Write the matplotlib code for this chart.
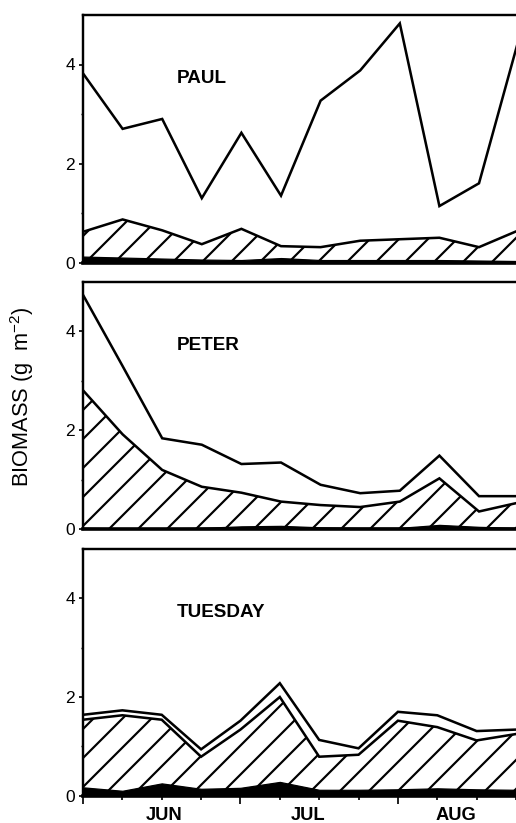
import matplotlib
matplotlib.use("Agg")
import matplotlib.pyplot as plt
import numpy as np

# ---------------- data ----------------
weeks = list(range(12))                     # weekly samples, 1 June .. mid Aug
lakes = ["PAUL", "PETER", "TUESDAY"]

paul_total  = [3.82, 2.70, 2.90, 1.30, 2.62, 1.35, 3.27, 3.88, 4.83, 1.14, 1.60, 4.50]
paul_hatch  = [0.62, 0.87, 0.65, 0.37, 0.68, 0.33, 0.31, 0.44, 0.47, 0.50, 0.31, 0.65]
paul_black  = [0.12, 0.10, 0.08, 0.06, 0.05, 0.09, 0.05, 0.05, 0.05, 0.05, 0.04, 0.03]

peter_total = [4.74, 3.30, 1.84, 1.71, 1.32, 1.35, 0.90, 0.73, 0.78, 1.49, 0.67, 0.67]
peter_hatch = [2.81, 1.92, 1.20, 0.86, 0.74, 0.56, 0.49, 0.45, 0.56, 1.03, 0.36, 0.54]
peter_black = [0.03, 0.02, 0.02, 0.03, 0.06, 0.07, 0.04, 0.03, 0.03, 0.09, 0.05, 0.03]

tues_total  = [1.64, 1.73, 1.64, 0.94, 1.52, 2.28, 1.13, 0.96, 1.70, 1.63, 1.31, 1.34]
tues_hatch  = [1.54, 1.63, 1.54, 0.79, 1.34, 2.00, 0.79, 0.83, 1.52, 1.39, 1.12, 1.25]
tues_black  = [0.17, 0.10, 0.25, 0.14, 0.16, 0.28, 0.12, 0.12, 0.13, 0.15, 0.13, 0.12]

months = ["JUN", "JUL", "AUG"]
month_label_pos = [2.07, 5.73, 9.47]
month_starts = [0, 4, 8]
y_ticks = [0, 2, 4]
y_label = "BIOMASS (g  m$^{-2}$)"

series = [
    (paul_total, paul_hatch, paul_black),
    (peter_total, peter_hatch, peter_black),
    (tues_total, tues_hatch, tues_black),
]

# ---------------- style ----------------
DPI = 174
plt.rcParams["font.family"] = ["Liberation Sans", "DejaVu Sans"]
plt.rcParams["mathtext.default"] = "regular"
plt.rcParams["hatch.linewidth"] = 0.9
plt.rcParams["hatch.color"] = "black"

fig = plt.figure(figsize=(516 / DPI, 823 / DPI), dpi=DPI)
W, H = 516.0, 823.0
left_px = 83.0
panels_px = [(15.0, 262.5), (282.0, 529.3), (549.0, 795.7)]  # (top, bottom)
x_right = (516.0 - left_px) / 39.6

for k, ((top_px, bot_px), name, (tot, hat, blk)) in enumerate(zip(panels_px, lakes, series)):
    ax = fig.add_axes([left_px / W, 1 - bot_px / H, 1 - left_px / W, (bot_px - top_px) / H])
    x = np.array(weeks, dtype=float)
    ax.fill_between(x, 0, hat, facecolor="white", edgecolor="black",
                    hatch="//", linewidth=0, zorder=1)
    ax.fill_between(x, 0, blk, facecolor="black", edgecolor="black",
                    linewidth=0.5, zorder=2)
    ax.plot(x, hat, color="black", lw=1.05, solid_joinstyle="miter", zorder=3)
    ax.plot(x, tot, color="black", lw=1.05, solid_joinstyle="miter", zorder=3)

    ax.set_xlim(0, x_right)
    ax.set_ylim(0, 5.0)
    ax.spines["right"].set_visible(False)
    for s in ["left", "top"]:
        ax.spines[s].set_linewidth(1.0)
    ax.spines["bottom"].set_linewidth(1.5)

    ax.set_yticks(y_ticks)
    ax.set_yticklabels([str(v) for v in y_ticks], fontsize=7.2)
    ax.set_yticks([1, 3], minor=True)
    ax.tick_params(axis="y", which="major", direction="out", length=1.8, width=0.7, pad=1.5)
    ax.tick_params(axis="y", which="minor", direction="out", length=1.0, width=0.6)

    ax.text(2.37, 3.72, name, fontsize=7.8, fontweight="bold", ha="left", va="center")

    if k == 2:
        ax.set_xticks(month_starts)
        ax.set_xticklabels([])
        ax.set_xticks(weeks, minor=True)
        ax.tick_params(axis="x", which="major", direction="out", length=3.4, width=0.7)
        ax.tick_params(axis="x", which="minor", direction="out", length=1.8, width=0.7)
        for m, p in zip(months, month_label_pos):
            ax.annotate(m, xy=(p, 0), xycoords=("data", "axes fraction"),
                        xytext=(0, -8.4), textcoords="offset points",
                        ha="center", va="center", fontsize=7.6, fontweight="bold")
    else:
        ax.set_xticks([])

fig.text(22 / W, 1 - 397 / H, y_label, rotation=90, ha="center", va="center", fontsize=9.0)

fig.savefig("out.png", dpi=DPI)
